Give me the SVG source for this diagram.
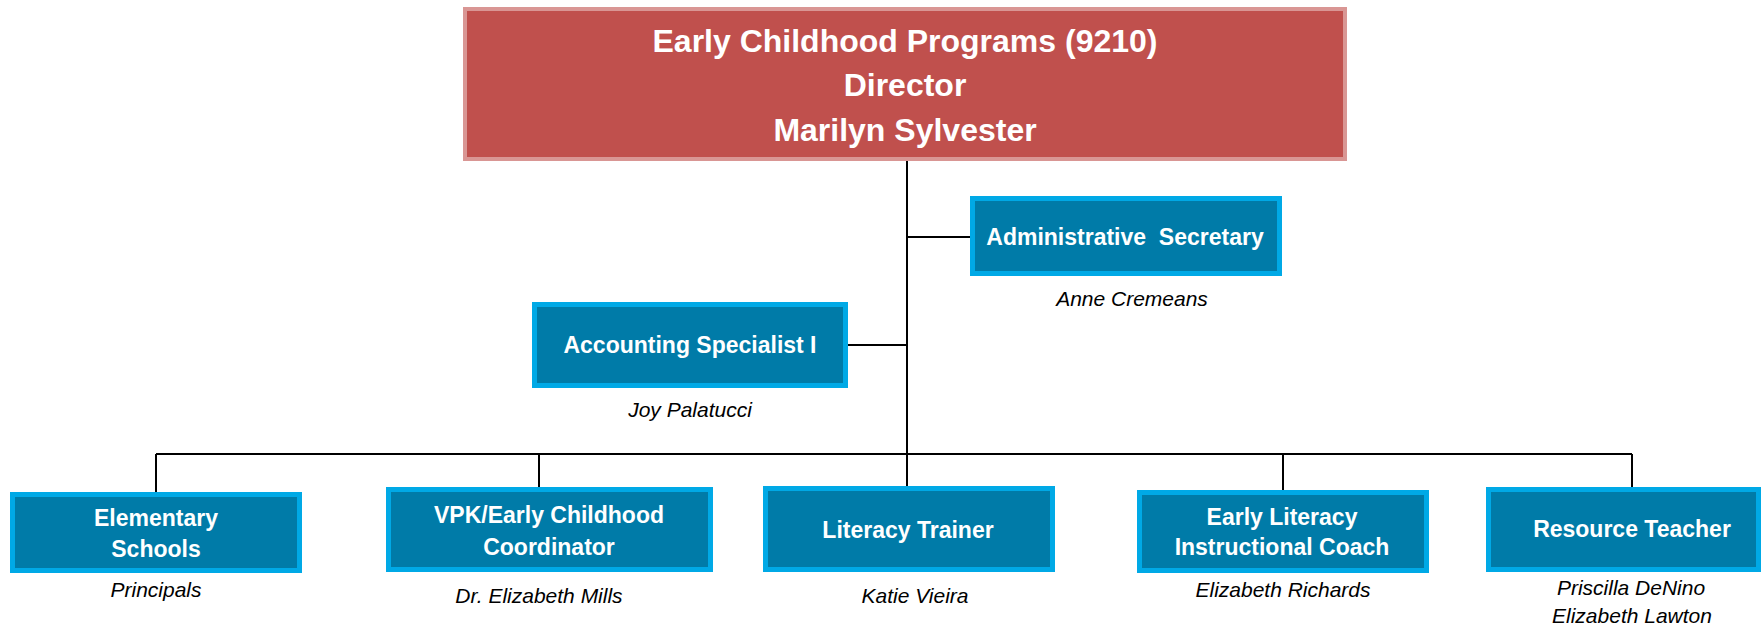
<svg xmlns="http://www.w3.org/2000/svg" width="1762" height="627" viewBox="0 0 1762 627">
<style>
.bg{fill:#ffffff}
.top{fill:#C0504D;stroke:#D99694;stroke-width:4}
.box{fill:#007BA8;stroke:#00A9E6;stroke-width:5}
.tt{font-family:"Liberation Sans",Arial,sans-serif;font-weight:bold;font-size:32px;fill:#ffffff;text-anchor:middle}
.bt{font-family:"Liberation Sans",Arial,sans-serif;font-weight:bold;font-size:23px;fill:#ffffff;text-anchor:middle}
.nm{font-family:"Liberation Sans",Arial,sans-serif;font-style:italic;font-size:21px;fill:#000000;text-anchor:middle}
.ln{fill:none;stroke:#000000;stroke-width:2}
</style>
<rect class="bg" x="0" y="0" width="1762" height="627"/>
<g id="connectors">
<path class="ln" d="M907 161 V486"/>
<path class="ln" d="M907 237 H970"/>
<path class="ln" d="M848 345 H907"/>
<path class="ln" d="M156 454 H1632"/>
<path class="ln" d="M156 454 V492"/>
<path class="ln" d="M539 454 V487"/>
<path class="ln" d="M1283 454 V490"/>
<path class="ln" d="M1632 454 V487"/>
</g>
<g id="director">
<rect class="top" x="465" y="9" width="880" height="150"/>
<text class="tt" x="905" y="52">Early Childhood Programs (9210)</text>
<text class="tt" x="905" y="96">Director</text>
<text class="tt" x="905" y="141">Marilyn Sylvester</text>
</g>
<g id="admin-secretary">
<rect class="box" x="972.5" y="198.5" width="307" height="75"/>
<text class="bt" x="1125" y="245" xml:space="preserve">Administrative  Secretary</text>
<text class="nm" x="1132" y="306">Anne Cremeans</text>
</g>
<g id="accounting-specialist">
<rect class="box" x="534.5" y="304.5" width="311" height="81"/>
<text class="bt" x="690" y="353">Accounting Specialist I</text>
<text class="nm" x="690" y="417">Joy Palatucci</text>
</g>
<g id="elementary-schools">
<rect class="box" x="12.5" y="494.5" width="287" height="76"/>
<text class="bt" x="156" y="526">Elementary</text>
<text class="bt" x="156" y="557">Schools</text>
<text class="nm" x="156" y="597">Principals</text>
</g>
<g id="vpk-coordinator">
<rect class="box" x="388.5" y="489.5" width="322" height="80"/>
<text class="bt" x="549" y="523">VPK/Early Childhood</text>
<text class="bt" x="549" y="555">Coordinator</text>
<text class="nm" x="539" y="603">Dr. Elizabeth Mills</text>
</g>
<g id="literacy-trainer">
<rect class="box" x="765.5" y="488.5" width="287" height="81"/>
<text class="bt" x="908" y="538">Literacy Trainer</text>
<text class="nm" x="915" y="603">Katie Vieira</text>
</g>
<g id="early-literacy-coach">
<rect class="box" x="1139.5" y="492.5" width="287" height="78"/>
<text class="bt" x="1282" y="525">Early Literacy</text>
<text class="bt" x="1282" y="555">Instructional Coach</text>
<text class="nm" x="1283" y="597">Elizabeth Richards</text>
</g>
<g id="resource-teacher">
<rect class="box" x="1488.5" y="489.5" width="270" height="80"/>
<text class="bt" x="1632" y="537">Resource Teacher</text>
<text class="nm" x="1631" y="595">Priscilla DeNino</text>
<text class="nm" x="1632" y="623">Elizabeth Lawton</text>
</g>
</svg>
